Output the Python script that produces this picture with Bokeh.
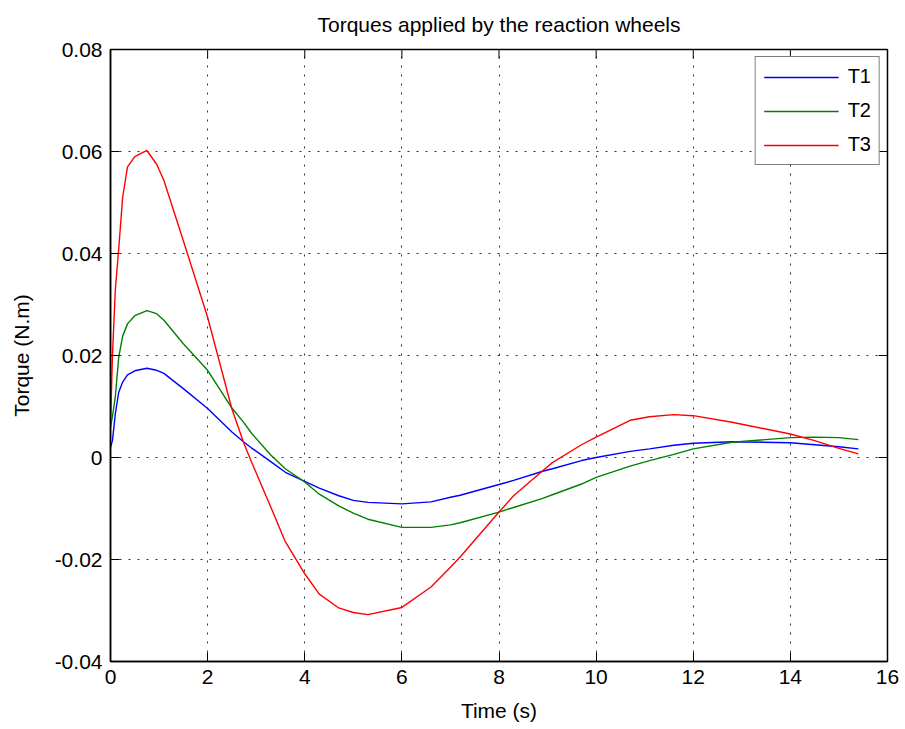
import math
from bokeh.plotting import figure
from bokeh.models import Range1d, FixedTicker
from bokeh.embed import file_html
from bokeh.resources import INLINE

# Data
time_s = [0, 0.04, 0.1, 0.17, 0.25, 0.35, 0.5, 0.75, 0.95, 1.1, 1.5, 2.0, 2.5, 2.75, 2.9,
          3.3, 3.6, 4.0, 4.3, 4.7, 5.0, 5.3, 6.0, 6.6, 7.0, 7.2, 8.0, 8.3, 8.9, 9.1,
          9.7, 10.0, 10.7, 11.1, 11.6, 12.0, 12.8, 14.0, 14.5, 15.0, 15.4]

t1 = [0.002, 0.0033, 0.0086, 0.0128, 0.0148, 0.0162, 0.0170, 0.0175, 0.0171, 0.0165, 0.0135,
      0.0096, 0.0050, 0.0030, 0.0019, -0.0008, -0.0029, -0.0047, -0.0060, -0.0075, -0.0084,
      -0.0088, -0.0091, -0.0087, -0.0078, -0.0074, -0.0053, -0.0045, -0.0027, -0.0022,
      -0.0006, 0.0, 0.0012, 0.0017, 0.0024, 0.0028, 0.0031, 0.0029, 0.0025, 0.0021, 0.0017]

t2 = [0.006, 0.008, 0.012, 0.0197, 0.0238, 0.0262, 0.0278, 0.0288, 0.0282, 0.0269, 0.0223,
      0.0171, 0.0097, 0.0068, 0.0048, 0.0005, -0.0022, -0.0048, -0.0072, -0.0095, -0.0109,
      -0.0121, -0.0137, -0.0137, -0.0132, -0.0128, -0.0107, -0.0098, -0.0080, -0.0073,
      -0.0052, -0.0039, -0.0017, -0.0006, 0.0006, 0.0017, 0.0030, 0.0039, 0.0040, 0.0039, 0.0035]

t3 = [0.006, 0.020, 0.033, 0.041, 0.051, 0.057, 0.059, 0.0602, 0.0575, 0.0543, 0.0425,
      0.0275, 0.0095, 0.0027, -0.0008, -0.0097, -0.0165, -0.0228, -0.0268, -0.0295, -0.0304,
      -0.0308, -0.0294, -0.0254, -0.0215, -0.0195, -0.0107, -0.0075, -0.0026, -0.0010,
      0.0025, 0.0040, 0.0073, 0.0080, 0.0084, 0.0082, 0.0069, 0.0046, 0.0033, 0.0018, 0.0007]

x_ticks = [0, 2, 4, 6, 8, 10, 12, 14, 16]
y_ticks = [-0.04, -0.02, 0, 0.02, 0.04, 0.06, 0.08]
y_tick_labels = ["-0.04", "-0.02", "0", "0.02", "0.04", "0.06", "0.08"]
x_min, x_max = 0, 16
y_min, y_max = -0.04, 0.08

FONT = "Liberation Sans"

p = figure(width=905, height=729, output_backend="svg", toolbar_location=None,
           x_range=Range1d(x_min, x_max), y_range=Range1d(y_min, y_max),
           min_border_left=110, min_border_right=18, min_border_top=49, min_border_bottom=68,
           background_fill_color="white", border_fill_color="white")

p.title.text = "Torques applied by the reaction wheels"
p.title.align = "center"
p.title.vertical_align = "top"
p.title.text_font = FONT
p.title.text_font_size = "21px"
p.title.text_font_style = "normal"
p.title.text_color = "black"
p.title.standoff = 24

p.outline_line_color = "black"
p.outline_line_width = 1.5

xt = FixedTicker(ticks=x_ticks)
yt = FixedTicker(ticks=y_ticks)
overrides = {v: s for v, s in zip(y_ticks, y_tick_labels)}

for ax in [p.xaxis[0], p.yaxis[0]]:
    ax.major_tick_in = 9
    ax.major_tick_out = 0
    ax.minor_tick_in = 0
    ax.minor_tick_out = 0
    ax.axis_line_color = "black"
    ax.axis_line_width = 1.5
    ax.major_tick_line_color = "black"
    ax.major_label_text_font = FONT
    ax.major_label_text_font_size = "21px"
    ax.major_label_text_color = "black"
    ax.major_label_standoff = 8
    ax.axis_label_text_font = FONT
    ax.axis_label_text_font_size = "21px"
    ax.axis_label_text_font_style = "normal"
    ax.axis_label_text_color = "black"

p.xaxis[0].ticker = xt
p.yaxis[0].ticker = yt
p.yaxis[0].major_label_overrides = overrides
p.xaxis[0].axis_label = "Time (s)"
p.yaxis[0].axis_label = "Torque (N.m)"
p.xaxis[0].axis_label_standoff = 12
p.yaxis[0].axis_label_standoff = 19

# inward ticks on the top and right edges (box on)
p.ray(x=x_ticks, y=[y_max] * len(x_ticks), length=9, length_units="screen",
      angle=-math.pi / 2, line_color="black", line_width=1)
p.ray(x=[x_max] * len(y_ticks), y=y_ticks, length=9, length_units="screen",
      angle=math.pi, line_color="black", line_width=1)

for g in [p.xgrid[0], p.ygrid[0]]:
    g.grid_line_color = "black"
    g.grid_line_dash = "2 7"
    g.grid_line_width = 1
    g.grid_line_alpha = 0.8
p.xgrid[0].ticker = xt
p.ygrid[0].ticker = yt

p.line(time_s, t1, line_color="#0000ff", line_width=1.4, legend_label="T1")
p.line(time_s, t2, line_color="#008000", line_width=1.4, legend_label="T2")
p.line(time_s, t3, line_color="#ff0000", line_width=1.4, legend_label="T3")

lg = p.legend[0]
lg.location = "top_right"
lg.margin = 7
lg.border_line_color = "black"
lg.border_line_width = 1
lg.background_fill_color = "white"
lg.background_fill_alpha = 1
lg.label_text_font = FONT
lg.label_text_font_size = "20px"
lg.label_text_color = "black"
lg.glyph_width = 75
lg.glyph_height = 20
lg.label_height = 20
lg.label_standoff = 9
lg.spacing = 11
lg.padding = 8

open("out.html", "w").write(file_html(p, INLINE))
